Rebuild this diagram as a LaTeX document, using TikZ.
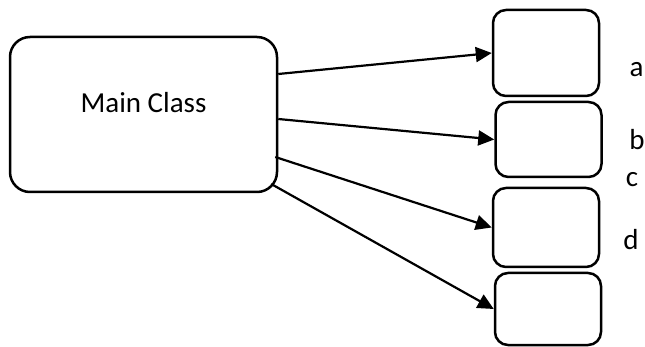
\documentclass[tikz,border=0pt]{standalone}
\usepackage{fontspec}
\setmainfont{Carlito}
\usetikzlibrary{arrows.meta,calc}
\begin{document}
\begin{tikzpicture}[x=1pt,y=-1pt,
  bigbox/.style={draw,line width=2.5pt,rounded corners=20pt,minimum width=267pt,minimum height=155pt,inner sep=0pt},
  smallbox/.style={draw,line width=2.5pt,rounded corners=13pt,minimum width=106pt,inner sep=0pt},
  lbl/.style={font=\fontsize{29}{35}\selectfont,inner sep=0pt,anchor=base},
  link/.style={line width=2.2pt,-{Triangle[length=16pt,width=15pt]}}]
\useasboundingbox (0,0) rectangle (645,347);

% main class box and its caption
\node[bigbox] (main) at (143.5,114.5) {};
\node[lbl] (maintext) at (143.5,113) {Main Class};

% the four target boxes
\node[smallbox,minimum height=86pt] (b1) at (546,53) {};
\node[smallbox,minimum height=75pt] (b2) at (548.5,139.5) {};
\node[smallbox,minimum height=79pt] (b3) at (546,227.5) {};
\node[smallbox,minimum height=72pt] (b4) at (548,309) {};

% side letters
\node[lbl] (la) at (636.5,77) {a};
\node[lbl] (lb) at (637,150) {b};
\node[lbl] (lc) at (632,187) {c};
\node[lbl] (ld) at (631,250) {d};

% start points on the main box outline
\coordinate (s1) at ($(main.east)+(0,-40.5)$);
\coordinate (s2) at ($(main.east)+(0,4.5)$);
\coordinate (s3) at ($(main.east)+(-3,42.5)$);
\coordinate (s4) at ($(main.east)+(-7,69.5)$);

\draw[link] (s1) -- (b1.west);
\draw[link] (s2) -- (b2.west);
\draw[link] (s3) -- (b3.west);
\draw[link] (s4) -- (b4.west);
\end{tikzpicture}
\end{document}
